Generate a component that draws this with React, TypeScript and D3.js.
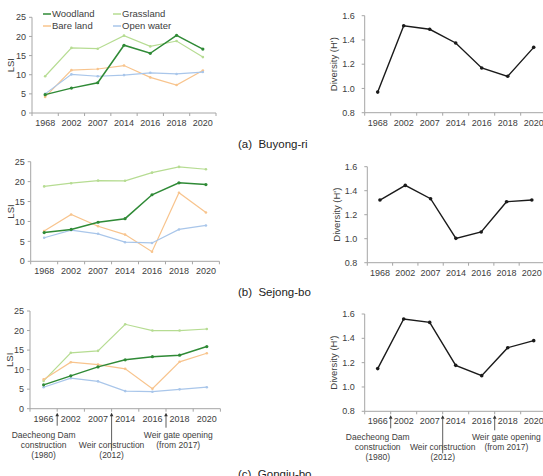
import React from 'react';
import * as d3 from 'd3';

const width = 543;
const height = 476;

// years per site
const yearsAB = ['1968', '2002', '2007', '2014', '2016', '2018', '2020'];
const yearsC = ['1966', '2002', '2007', '2014', '2016', '2018', '2020'];

// (a) Buyong-ri
const woodlandA = [4.8, 6.5, 7.9, 17.7, 15.6, 20.3, 16.7];
const grasslandA = [9.6, 17.0, 16.8, 20.2, 17.4, 18.8, 14.6];
const bareA = [4.2, 11.2, 11.5, 12.4, 9.3, 7.3, 11.1];
const waterA = [5.0, 10.1, 9.6, 9.9, 10.5, 10.2, 10.7];
const diversityA = [0.97, 1.517, 1.488, 1.375, 1.169, 1.10, 1.339];

// (b) Sejong-bo
const woodlandB = [7.2, 8.0, 9.8, 10.7, 16.7, 19.7, 19.25];
const grasslandB = [18.8, 19.6, 20.25, 20.2, 22.25, 23.7, 23.1];
const bareB = [7.6, 11.75, 8.8, 6.7, 2.4, 17.2, 12.25];
const waterB = [5.9, 7.8, 6.9, 4.8, 4.6, 8.0, 9.0];
const diversityB = [1.322, 1.444, 1.333, 1.003, 1.056, 1.308, 1.322];

// (c) Gongju-bo
const woodlandC = [6.1, 8.4, 10.7, 12.5, 13.3, 13.7, 15.9];
const grasslandC = [7.1, 14.3, 14.8, 21.6, 20.0, 20.0, 20.4];
const bareC = [7.5, 11.9, 11.3, 10.2, 5.1, 12.0, 14.2];
const waterC = [5.5, 7.8, 7.0, 4.5, 4.35, 4.95, 5.5];
const diversityC = [1.151, 1.559, 1.531, 1.178, 1.093, 1.323, 1.381];

const lsiTicks = [0, 5, 10, 15, 20, 25];
const divTicks = [0.8, 1.0, 1.2, 1.4, 1.6];

const colors = {
  'Woodland': '#2f8a36',
  'Grassland': '#b6dc92',
  'Bare land': '#f8c48d',
  'Open water': '#a9c6ea',
};

// arrows sit on the boundary after band `after`; text shifted by `shift` bandwidths
const events = [
  { after: 0, lines: ['Daecheong Dam', 'construction', '(1980)'], dy: 0, len: 13, shift: -0.5 },
  { after: 2, lines: ['Weir construction', '(2012)'], dy: 10, len: 38, shift: 0 },
  { after: 4, lines: ['Weir gate opening', '(from 2017)'], dy: 0, len: 15, shift: 0.45 },
];

const font = 'Liberation Sans, Arial, sans-serif';
const axisColor = '#a6a6a6';
const textColor = '#404040';

const Panel = ({ x0, x1, yTop, yBot, years, domain, ticks, fmt, label, labelX, gap, series, showEvents }) => {
  const x = d3.scaleBand().domain(years).range([x0, x1]);
  const y = d3.scaleLinear().domain(domain).range([yBot, yTop]);
  const bw = x.bandwidth();
  const cx = (d) => x(d) + bw / 2;
  const line = d3.line().x((d) => cx(d[0])).y((d) => y(d[1]));

  return (
    <g>
      <line x1={x0} x2={x0} y1={yTop} y2={yBot} stroke={axisColor} />
      <line x1={x0} x2={x1} y1={yBot} y2={yBot} stroke={axisColor} />
      {ticks.map((t) => (
        <g key={t}>
          <line x1={x0 - 3} x2={x0} y1={y(t)} y2={y(t)} stroke={axisColor} />
          <text x={x0 - gap} y={y(t)} dy="0.35em" textAnchor="end" fontSize={9} fill={textColor}>{fmt(t)}</text>
        </g>
      ))}
      {years.map((yr) => (
        <g key={yr}>
          <line x1={x(yr)} x2={x(yr)} y1={yBot} y2={yBot + 3} stroke={axisColor} />
          <text x={cx(yr)} y={yBot + 13} textAnchor="middle" fontSize={9} fill={textColor}>{yr}</text>
        </g>
      ))}
      <line x1={x1} x2={x1} y1={yBot} y2={yBot + 3} stroke={axisColor} />
      <text transform={`translate(${labelX},${(yTop + yBot) / 2}) rotate(-90)`} textAnchor="middle" fontSize={9.5} fill={textColor}>{label}</text>

      {series.map((s) => (
        <g key={s.name}>
          <path d={line(years.map((yr, i) => [yr, s.values[i]]))} fill="none" stroke={s.color} strokeWidth={s.width} />
          {years.map((yr, i) => (
            <circle key={yr} cx={cx(yr)} cy={y(s.values[i])} r={s.r} fill={s.color} />
          ))}
        </g>
      ))}

      {showEvents && events.map((e) => {
        const ex = x(years[e.after + 1]);
        const top = yBot + 4;
        return (
          <g key={e.lines[0]}>
            <line x1={ex} x2={ex} y1={top + 3} y2={top + e.len} stroke="#333" strokeWidth={0.8} />
            <path d={`M${ex - 1.8},${top + 3.5}L${ex},${top}L${ex + 1.8},${top + 3.5}Z`} fill="#333" />
            {e.lines.map((l, j) => (
              <text key={l} x={ex + e.shift * bw} y={yBot + 29 + e.dy + j * 10}
                textAnchor="middle" fontSize={8.5} fill={textColor}>{l}</text>
            ))}
          </g>
        );
      })}
    </g>
  );
};

const lsiSeries = (w, g, b, o) => [
  { name: 'Grassland', values: g, color: colors['Grassland'], width: 1.2, r: 1.3 },
  { name: 'Bare land', values: b, color: colors['Bare land'], width: 1.2, r: 1.3 },
  { name: 'Open water', values: o, color: colors['Open water'], width: 1.2, r: 1.3 },
  { name: 'Woodland', values: w, color: colors['Woodland'], width: 1.5, r: 1.6 },
];
const divSeries = (v) => [{ name: 'Diversity', values: v, color: '#1a1a1a', width: 1.4, r: 1.8 }];

const legendPos = [[43, 14], [113, 14], [43, 26], [113, 26]];
const legendOrder = ['Woodland', 'Grassland', 'Bare land', 'Open water'];

const App = () => {
  const fmt0 = d3.format('d');
  const fmt1 = d3.format('.1f');
  return (
    <svg width={width} height={height} style={{ position: 'absolute', left: 0, top: 0, background: '#fff' }} fontFamily={font}>
      <Panel x0={32} x1={216} yTop={17.3} yBot={113} years={yearsAB} domain={[0, 25]} ticks={lsiTicks} fmt={fmt0}
        label="LSI" labelX={13.5} gap={6} series={lsiSeries(woodlandA, grasslandA, bareA, waterA)} />
      <Panel x0={364.7} x1={546.7} yTop={15.7} yBot={112.7} years={yearsAB} domain={[0.8, 1.6]} ticks={divTicks} fmt={fmt1}
        label="Diversity (H')" labelX={337} gap={10} series={divSeries(diversityA)} />

      <Panel x0={30.7} x1={219.4} yTop={161.7} yBot={261.3} years={yearsAB} domain={[0, 25]} ticks={lsiTicks} fmt={fmt0}
        label="LSI" labelX={13.5} gap={6} series={lsiSeries(woodlandB, grasslandB, bareB, waterB)} />
      <Panel x0={367.3} x1={544.5} yTop={166.7} yBot={262.7} years={yearsAB} domain={[0.8, 1.6]} ticks={divTicks} fmt={fmt1}
        label="Diversity (H')" labelX={340} gap={10} series={divSeries(diversityB)} />

      <Panel x0={30} x1={220.4} yTop={311} yBot={408.7} years={yearsC} domain={[0, 25]} ticks={lsiTicks} fmt={fmt0}
        label="LSI" labelX={12.5} gap={6} series={lsiSeries(woodlandC, grasslandC, bareC, waterC)} showEvents />
      <Panel x0={364.7} x1={546.7} yTop={314} yBot={411.3} years={yearsC} domain={[0.8, 1.6]} ticks={divTicks} fmt={fmt1}
        label="Diversity (H')" labelX={337} gap={10} series={divSeries(diversityC)} showEvents />

      {legendOrder.map((n, i) => (
        <g key={n}>
          <line x1={legendPos[i][0]} x2={legendPos[i][0] + 8} y1={legendPos[i][1]} y2={legendPos[i][1]} stroke={colors[n]} strokeWidth={1.5} />
          <text x={legendPos[i][0] + 9} y={legendPos[i][1]} dy="0.35em" fontSize={9.5} fill={textColor}>{n}</text>
        </g>
      ))}

      <text x={238} y={148} fontSize={11.5} fill="#222" style={{ whiteSpace: 'pre' }}>(a)  Buyong-ri</text>
      <text x={238} y={296} fontSize={11.5} fill="#222" style={{ whiteSpace: 'pre' }}>(b)  Sejong-bo</text>
      <text x={238} y={478} fontSize={11.5} fill="#222" style={{ whiteSpace: 'pre' }}>(c)  Gongju-bo</text>
    </svg>
  );
};

export default App;
